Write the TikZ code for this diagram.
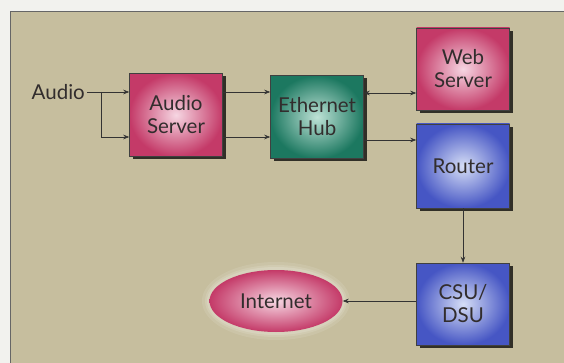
\documentclass[tikz,border=0pt]{standalone}
\usepackage{fontspec}
\setmainfont{Lato}
\usetikzlibrary{shadows,shapes.geometric,arrows.meta}
\definecolor{panel}{RGB}{198,190,158}
\definecolor{outer}{RGB}{242,242,238}
\definecolor{pinkout}{RGB}{196,58,104}
\definecolor{pinkin}{RGB}{246,214,226}
\definecolor{tealout}{RGB}{28,120,96}
\definecolor{tealin}{RGB}{190,226,214}
\definecolor{blueout}{RGB}{70,86,196}
\definecolor{bluein}{RGB}{214,222,246}
\definecolor{txt}{RGB}{50,45,45}
\tikzset{
  lbl/.style={font=\fontsize{20.5}{23}\selectfont, text=txt},
  box/.style={lbl, draw=black!75, line width=0.5pt, minimum width=93pt, minimum height=83pt,
    align=center, inner sep=0pt,
    drop shadow={shadow xshift=3pt, shadow yshift=-3pt, fill=black, opacity=0.75}},
  pinkbox/.style={box, inner color=pinkin, outer color=pinkout},
  tealbox/.style={box, inner color=tealin, outer color=tealout},
  bluebox/.style={box, inner color=bluein, outer color=blueout},
  conn/.style={draw=black!80, line width=0.6pt, -{Stealth[length=6pt,width=4.5pt]}},
}
\begin{document}
\begin{tikzpicture}[x=1pt,y=-1pt]
\fill[outer] (0,0) rectangle (564,363);
\useasboundingbox (0,0) rectangle (564,363);
\fill[panel] (10,11) rectangle (564,363);
\draw[black!60, line width=0.8pt] (10,363) -- (10,11) -- (564,11);

\node[pinkbox] (as) at (176,115) {Audio\\Server};
\node[tealbox] (hub) at (317,117) {Ethernet\\Hub};
\node[pinkbox, minimum height=82pt] (web) at (463,69) {Web\\Server};
\node[bluebox, minimum height=84pt] (rt) at (463,166) {Router};
\node[bluebox, minimum height=82pt] (csu) at (463,304) {CSU/\\DSU};
\fill[white, opacity=0.10] (276,301) ellipse (74 and 39);
\fill[white, opacity=0.12] (276,301) ellipse (71 and 36);
\fill[white, opacity=0.15] (276,301) ellipse (69 and 34);
\node[lbl, ellipse, inner color=pinkin, outer color=pinkout, minimum width=133pt, minimum height=62pt] (net) at (276,301) {Internet};

\node[lbl, anchor=east, inner sep=2pt] (audio) at (87,92) {Audio};
\coordinate (br) at (101,92);
\draw[conn] (audio.east) -- (as.west |- audio.east);
\draw[conn] (br) |- (as.west |- 0,137);
\draw[conn] (as.east |- 0,92) -- (hub.west |- 0,92);
\draw[conn] (as.east |- 0,137) -- (hub.west |- 0,137);
\draw[conn, {Stealth[length=6pt,width=4.5pt]}-{Stealth[length=6pt,width=4.5pt]}] (hub.east |- 0,93) -- (web.west |- 0,93);
\draw[conn] (hub.east |- 0,140) -- (rt.west |- 0,140);
\draw[conn] (rt.south) -- (csu.north);
\draw[conn] (csu.west |- net.east) -- (net.east);
\end{tikzpicture}
\end{document}
